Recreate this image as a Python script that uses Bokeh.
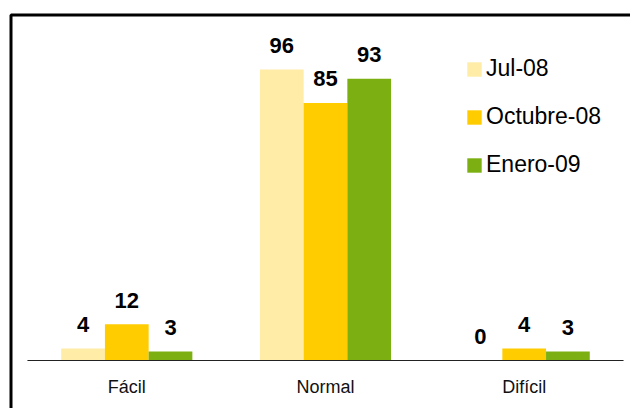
from bokeh.plotting import figure
from bokeh.models import ColumnDataSource, Range1d, BoxAnnotation, Legend, LegendItem
from bokeh.core.properties import value
from bokeh.embed import file_html
from bokeh.resources import INLINE

categories = ["Fácil", "Normal", "Difícil"]
series_names = ["Jul-08", "Octubre-08", "Enero-09"]
jul_08 = [4, 96, 0]
octubre_08 = [12, 85, 4]
enero_09 = [3, 93, 3]
colors = ["#FFECA6", "#FFCC00", "#7BAF12"]

idx = list(range(len(categories)))
bw = 0.22
offsets = [-bw, 0, bw]

src = ColumnDataSource(dict(
    idx=idx, cat=categories, zero=[0] * len(categories),
    jul=jul_08, oct=octubre_08, ene=enero_09,
    jul_x=[i + offsets[0] for i in idx],
    oct_x=[i + offsets[1] for i in idx],
    ene_x=[i + offsets[2] for i in idx],
    jul_lbl=[str(v) for v in jul_08],
    oct_lbl=[str(v) for v in octubre_08],
    ene_lbl=[str(v) for v in enero_09],
))

FONT = "Liberation Sans"

p = figure(
    x_range=Range1d(-0.6356, 2.535),
    y_range=Range1d(-15.84, 118.8),
    width=630, height=408,
    output_backend="svg", toolbar_location=None,
    x_axis_location=None, y_axis_location=None,
    min_border=0, min_border_left=0, min_border_right=0,
    min_border_top=0, min_border_bottom=0,
    background_fill_color="white", border_fill_color="white",
)
p.outline_line_color = None
p.xgrid.visible = False
p.ygrid.visible = False

fields = ["jul", "oct", "ene"]
renderers = []
for f, c in zip(fields, colors):
    r = p.vbar(x=f + "_x", top=f, bottom=0, width=bw,
               source=src, fill_color=c, line_color=None)
    renderers.append(r)
    p.text(x=f + "_x", y=f, text=f + "_lbl", source=src,
           text_align="center", text_baseline="alphabetic", y_offset=-24,
           text_font=value(FONT), text_font_size="22px", text_font_style="bold",
           text_color="black")

# category axis line and labels
p.segment(x0=[-0.5], x1=[len(categories) - 0.5], y0=[0], y1=[0],
          line_color="#222222", line_width=1)
p.text(x="idx", y="zero", text="cat", source=src,
       text_align="center", text_baseline="alphabetic", y_offset=26,
       text_font=value(FONT), text_font_size="18px", text_color="#111111")

legend = Legend(
    items=[LegendItem(label=n, renderers=[r]) for n, r in zip(series_names, renderers)],
    location=(465, 230),
    orientation="vertical",
    glyph_width=18, glyph_height=18, label_height=18,
    label_standoff=3, spacing=21, padding=0, margin=0,
    border_line_color=None, background_fill_alpha=0,
    label_text_font=FONT, label_text_font_size="23px", label_text_color="black",
)
p.add_layout(legend)

border = BoxAnnotation(
    left=10.5, right=900, top=14.5, bottom=900,
    left_units="canvas", right_units="canvas", top_units="canvas", bottom_units="canvas",
    fill_alpha=0, line_color="black", line_alpha=1.0, line_width=3,
)
p.add_layout(border)

open("out.html", "w").write(file_html(p, INLINE))
